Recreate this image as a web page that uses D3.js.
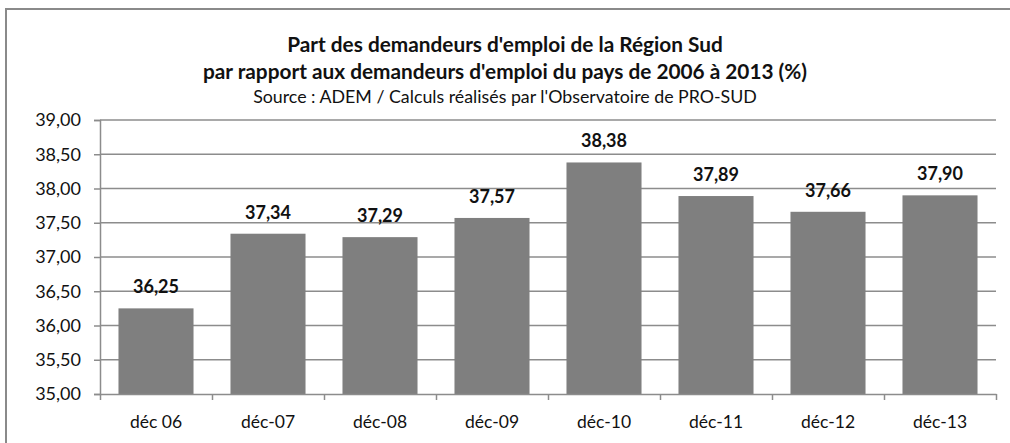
<!DOCTYPE html>
<html lang="fr">
<head>
<meta charset="utf-8">
<title>Part des demandeurs d'emploi de la Région Sud</title>
<script src="https://cdn.jsdelivr.net/npm/d3@7"></script>
<style>
  body { margin: 0; background: #fff; }
  text { font-family: Lato, "Open Sans", sans-serif; fill: #111; }
</style>
</head>
<body>
<script>
// data
var categories = ["déc 06", "déc-07", "déc-08", "déc-09", "déc-10", "déc-11", "déc-12", "déc-13"];
var values = [36.25, 37.34, 37.29, 37.57, 38.38, 37.89, 37.66, 37.90];
var yTicks = [35, 35.5, 36, 36.5, 37, 37.5, 38, 38.5, 39];
var titleLines = ["Part des demandeurs d'emploi de la Région Sud",
                  "par rapport aux demandeurs d'emploi du pays de 2006 à 2013 (%)"];
var subtitle = "Source : ADEM / Calculs réalisés par l'Observatoire de PRO-SUD";

var w = 1010, h = 443;
var plotLeft = 100, plotRight = 996, plotTop = 120, plotBottom = 394;

var fmt = function(v) { return v.toFixed(2).replace(".", ","); };

var svg = d3.select("body").append("svg")
  .attr("width", w).attr("height", h);

// outer frame
svg.append("rect")
  .attr("x", 6).attr("y", 9).attr("width", 1020).attr("height", 460)
  .attr("fill", "none").attr("stroke", "#8a8a8a").attr("stroke-width", 2);

var x = d3.scaleBand().domain(categories).range([plotLeft, plotRight]).paddingInner(0.33).paddingOuter(0.165);
var y = d3.scaleLinear().domain([35, 39]).range([plotBottom, plotTop]);

// gridlines
svg.append("g").selectAll("line").data(yTicks.slice(1)).enter().append("line")
  .attr("x1", plotLeft).attr("x2", plotRight)
  .attr("y1", function(d) { return y(d); }).attr("y2", function(d) { return y(d); })
  .attr("stroke", "#8c8c8c").attr("stroke-width", 1.5);

// bars
svg.append("g").selectAll("rect").data(values).enter().append("rect")
  .attr("x", function(d, i) { return x(categories[i]); })
  .attr("width", x.bandwidth())
  .attr("y", function(d) { return y(d); })
  .attr("height", function(d) { return y(35) - y(d); })
  .attr("fill", "#7f7f7f");

// y axis
var yAxis = d3.axisLeft(y).tickValues(yTicks).tickFormat(fmt).tickSize(6).tickPadding(13);
var gy = svg.append("g").attr("transform", "translate(" + plotLeft + ",0)").call(yAxis);
gy.select(".domain").attr("stroke", "#8c8c8c").attr("stroke-width", 1.5);
gy.selectAll(".tick line").attr("stroke", "#8c8c8c").attr("stroke-width", 1.5);
gy.selectAll(".tick text").attr("font-size", 18).attr("fill", "#111")
  .attr("font-family", "Lato, sans-serif");

// x axis
var xAxis = d3.axisBottom(d3.scaleLinear().domain([0, categories.length]).range([plotLeft, plotRight]))
  .tickValues(d3.range(categories.length + 1)).tickFormat("").tickSize(6).tickSizeOuter(0);
var gx = svg.append("g").attr("transform", "translate(0," + plotBottom + ")").call(xAxis);
gx.select(".domain").attr("stroke", "#8c8c8c").attr("stroke-width", 1.5);
gx.selectAll(".tick line").attr("stroke", "#8c8c8c").attr("stroke-width", 1.5);

svg.append("g").selectAll("text").data(categories).enter().append("text")
  .attr("x", function(d) { return x(d) + x.bandwidth() / 2; })
  .attr("y", 428)
  .attr("text-anchor", "middle")
  .attr("font-size", 17.5)
  .text(function(d) { return d; });

// data labels
svg.append("g").selectAll("text").data(values).enter().append("text")
  .attr("x", function(d, i) { return x(categories[i]) + x.bandwidth() / 2; })
  .attr("y", function(d) { return y(d) - 15; })
  .attr("text-anchor", "middle")
  .attr("font-size", 18)
  .attr("font-weight", "bold")
  .text(fmt);

// titles
svg.selectAll(".title").data(titleLines).enter().append("text")
  .attr("class", "title")
  .attr("x", 505)
  .attr("y", function(d, i) { return 52 + i * 27; })
  .attr("text-anchor", "middle")
  .attr("font-size", 20.8)
  .attr("font-weight", "bold")
  .text(function(d) { return d; });

svg.append("text")
  .attr("x", 505).attr("y", 103)
  .attr("text-anchor", "middle")
  .attr("font-size", 17.8)
  .text(subtitle);
</script>
</body>
</html>
